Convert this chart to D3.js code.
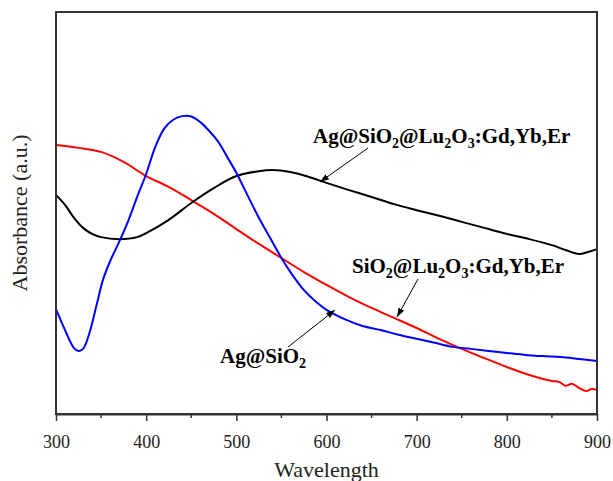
<!DOCTYPE html>
<html><head><meta charset="utf-8">
<script src="https://cdn.jsdelivr.net/npm/d3@7"></script>
<style>body{margin:0;background:#fff}svg{display:block}</style>
</head><body>
<svg id="c" width="613" height="481"></svg>
<script>
// Wavelength (nm) and absorbance (a.u., arbitrary 0-100 scale)
const redW = [300,325,350,375,400,425,450,475,500,525,550,575,600,625,650,675,700,725,750,775,800,825,850,858,865,872,880,888,894,900];
const redA = [66.9,66.2,65.2,62.7,59.2,56.5,53.2,49.8,46.0,42.3,38.8,35.3,32.1,29.1,26.4,23.9,21.4,18.7,16.2,13.9,11.7,9.7,8.2,8.0,7.0,7.5,6.5,5.7,6.2,6.0];

const blackW = [300,310,320,330,340,350,370,390,400,425,450,475,500,525,540,560,580,600,625,650,675,700,725,750,775,800,825,850,865,880,890,900];
const blackA = [54.5,52.0,48.8,46.3,44.8,44.0,43.5,44.0,45.0,48.3,52.5,56.2,59.2,60.4,60.7,60.2,59.0,57.5,55.7,54.0,52.2,50.7,49.3,47.8,46.3,44.8,43.5,42.0,40.8,39.8,40.3,41.0];

const blueW = [300,310,320,325,330,337,345,352,360,370,380,390,400,410,420,430,440,450,460,470,480,490,500,510,525,540,550,560,575,590,600,620,640,660,680,700,720,740,760,780,800,820,840,860,880,900];
const blueA = [26.1,20.9,16.4,15.7,16.2,20.1,27.1,33.3,38.0,42.8,48.0,54.0,59.7,66.4,71.0,73.2,74.1,74.0,72.6,70.4,67.7,63.9,60.0,55.5,48.8,42.8,38.8,35.3,30.8,27.6,25.9,23.6,21.9,20.9,19.7,18.7,17.7,16.7,16.2,15.7,15.2,14.7,14.4,14.2,13.7,13.2];

const xTicks = [300,400,500,600,700,800,900];
const xMinor = [350,450,550,650,750,850];

const svg = d3.select("#c");
const L=56, R=597, T=12, B=414;
const x = d3.scaleLinear().domain([300,900]).range([L,R]);
const y = d3.scaleLinear().domain([0,100]).range([B,T]);
const FONT = '"Liberation Serif"';

const defs = svg.append("defs");
defs.append("marker").attr("id","ah").attr("viewBox","0 0 10 10").attr("refX",10).attr("refY",5)
  .attr("markerWidth",9).attr("markerHeight",9).attr("markerUnits","userSpaceOnUse").attr("orient","auto")
  .append("path").attr("d","M0,1.5 L10,5 L0,8.5 z").attr("fill","#000");

const line = d3.line().x(d=>x(d[0])).y(d=>y(d[1])).curve(d3.curveCatmullRom.alpha(0.5));
const series = [
  {w:redW, a:redA, c:"#ff0000"},
  {w:blackW, a:blackA, c:"#000000"},
  {w:blueW, a:blueA, c:"#0000ff"}
];
series.forEach(s=>{
  svg.append("path").datum(s.w.map((w,i)=>[w,s.a[i]]))
    .attr("d",line).attr("fill","none").attr("stroke",s.c).attr("stroke-width",2);
});

// frame
svg.append("rect").attr("x",L).attr("y",T).attr("width",R-L).attr("height",B-T)
  .attr("fill","none").attr("stroke","#333").attr("stroke-width",2);

// x axis
const xa = svg.append("g").attr("transform",`translate(0,${B})`)
  .call(d3.axisBottom(x).tickValues(xTicks).tickSize(7).tickSizeOuter(0).tickPadding(14).tickFormat(d3.format("d")));
xa.attr("font-family", null);
xa.select(".domain").attr("stroke","#333").attr("stroke-width",2);
xa.selectAll(".tick line").attr("stroke","#333").attr("stroke-width",1.5);
xa.selectAll("text").style("font-family",FONT).attr("font-size",18).attr("fill","#222");
svg.append("g").selectAll("line").data(xMinor).join("line")
  .attr("x1",d=>x(d)).attr("x2",d=>x(d)).attr("y1",B).attr("y2",B+4).attr("stroke","#333").attr("stroke-width",1.5);

svg.append("text").attr("x",(L+R)/2).attr("y",477).attr("text-anchor","middle")
  .style("font-family",FONT).attr("font-size",22).attr("fill","#222").text("Wavelength");
svg.append("text").attr("transform",`translate(27,${(T+B)/2}) rotate(-90)`).attr("text-anchor","middle")
  .style("font-family",FONT).attr("font-size",22).attr("fill","#222").text("Absorbance (a.u.)");

// annotations
function label(xp, yp, parts){
  const t = svg.append("text").attr("x",xp).attr("y",yp).style("font-family",FONT)
    .attr("font-weight","bold").attr("font-size",21).attr("fill","#000");
  let shifted = false;
  parts.forEach(p=>{
    const ts = t.append("tspan").text(p[0]);
    if (p[1]) { ts.attr("font-size",14).attr("dy",5); shifted = true; }
    else if (shifted) { ts.attr("dy",-5); shifted = false; }
  });
}
label(313,143,[["Ag@SiO"],["2",1],["@Lu"],["2",1],["O"],["3",1],[":Gd,Yb,Er"]]);
label(352,273,[["SiO"],["2",1],["@Lu"],["2",1],["O"],["3",1],[":Gd,Yb,Er"]]);
label(220,363,[["Ag@SiO"],["2",1]]);

function arrow(x1,y1,x2,y2){
  svg.append("line").attr("x1",x1).attr("y1",y1).attr("x2",x2).attr("y2",y2)
    .attr("stroke","#000").attr("stroke-width",1).attr("marker-end","url(#ah)");
}
arrow(368,148,320,182);
arrow(418,279,397,317);
arrow(288,347,335,310);
</script>
</body></html>
